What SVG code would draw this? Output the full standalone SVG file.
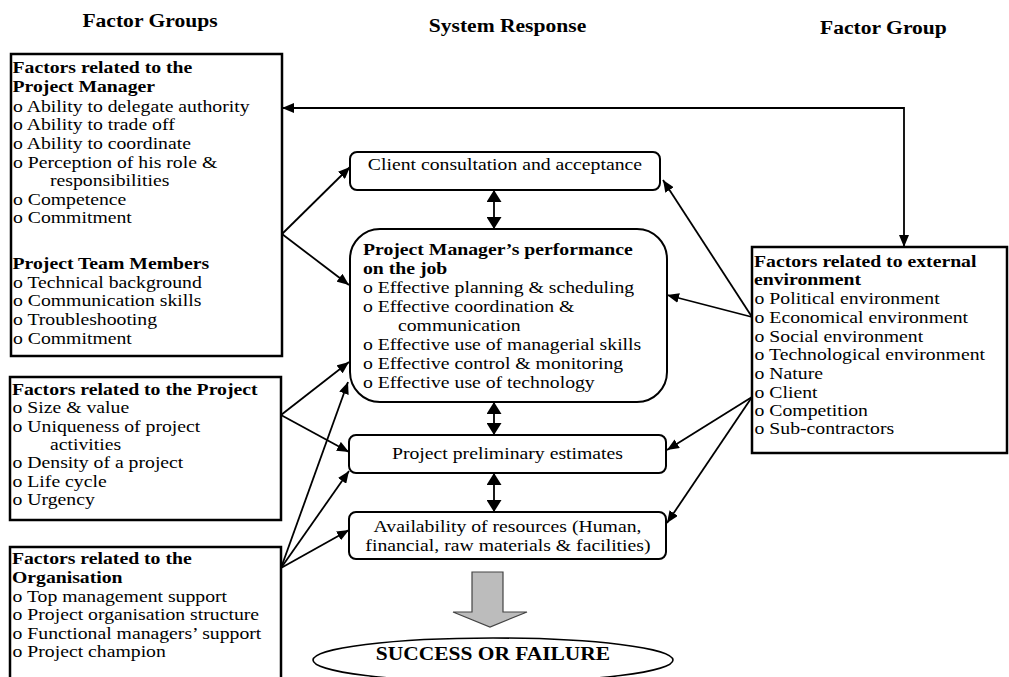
<svg xmlns="http://www.w3.org/2000/svg" width="1009" height="677" viewBox="0 0 1009 677">
<defs>
<style>
text{font-family:"Liberation Serif","Times New Roman",serif;font-size:17px;fill:#000}
.b{font-weight:bold}
.t{font-weight:bold;font-size:18.6px}
.c{text-anchor:middle}
.box{fill:#fff;stroke:#000;stroke-width:2.5}
.rbox{fill:#fff;stroke:#000;stroke-width:2}
.ln{fill:none;stroke:#000;stroke-width:1.8}
</style>
<marker id="ah" viewBox="0 0 12 10" refX="12" refY="5" markerWidth="12" markerHeight="10" markerUnits="userSpaceOnUse" orient="auto-start-reverse">
<path d="M0,0 L12,5 L0,10 z" fill="#000"/>
</marker>
<marker id="ahb" viewBox="0 0 12 15" refX="12" refY="7.5" markerWidth="12" markerHeight="15" markerUnits="userSpaceOnUse" orient="auto-start-reverse">
<path d="M0,0 L12,7.5 L0,15 z" fill="#000"/>
</marker>
</defs>
<rect width="1009" height="677" fill="#fff"/>

<g id="titles" transform="scale(1.16 1)">
<text class="t c" x="129.3" y="27">Factor Groups</text>
<text class="t c" x="437.5" y="32">System Response</text>
<text class="t c" x="761.6" y="34">Factor Group</text>
</g>

<g id="pm-factors">
<rect class="box" x="11" y="54" width="271" height="302"/>
<g transform="scale(1.16 1)">
<text class="b" x="10.8" y="73">Factors related to the</text>
<text class="b" x="10.8" y="92">Project Manager</text>
<text x="11.2" y="112">o Ability to delegate authority</text>
<text x="11.2" y="130">o Ability to trade off</text>
<text x="11.2" y="149">o Ability to coordinate</text>
<text x="11.2" y="168">o Perception of his role &amp;</text>
<text x="43.1" y="186">responsibilities</text>
<text x="11.2" y="205">o Competence</text>
<text x="11.2" y="223">o Commitment</text>
<text class="b" x="10.8" y="269">Project Team Members</text>
<text x="11.2" y="288">o Technical background</text>
<text x="11.2" y="306">o Communication skills</text>
<text x="11.2" y="325">o Troubleshooting</text>
<text x="11.2" y="344">o Commitment</text>
</g>
</g>

<g id="project-factors">
<rect class="box" x="10" y="377" width="271" height="143"/>
<g transform="scale(1.16 1)">
<text class="b" x="10.3" y="395">Factors related to the Project</text>
<text x="10.8" y="413">o Size &amp; value</text>
<text x="10.8" y="432">o Uniqueness of project</text>
<text x="43.1" y="450">activities</text>
<text x="10.8" y="468">o Density of a project</text>
<text x="10.8" y="487">o Life cycle</text>
<text x="10.8" y="505">o Urgency</text>
</g>
</g>

<g id="org-factors">
<rect class="box" x="10" y="547" width="271" height="145"/>
<g transform="scale(1.16 1)">
<text class="b" x="10.3" y="564">Factors related to the</text>
<text class="b" x="10.3" y="583">Organisation</text>
<text x="10.8" y="602">o Top management support</text>
<text x="10.8" y="620">o Project organisation structure</text>
<text x="10.8" y="639">o Functional managers’ support</text>
<text x="10.8" y="657">o Project champion</text>
</g>
</g>

<g id="client-consultation">
<rect class="rbox" x="350" y="152" width="310" height="38" rx="7"/>
<text class="c" transform="scale(1.16 1)" x="435.3" y="170">Client consultation and acceptance</text>
</g>

<g id="pm-performance">
<rect class="rbox" x="350" y="229" width="317" height="173" rx="30"/>
<g transform="scale(1.16 1)">
<text class="b" x="312.9" y="255">Project Manager’s performance</text>
<text class="b" x="312.9" y="274">on the job</text>
<text x="312.9" y="293">o Effective planning &amp; scheduling</text>
<text x="312.9" y="312">o Effective coordination &amp;</text>
<text x="343.1" y="331">communication</text>
<text x="312.9" y="350">o Effective use of managerial skills</text>
<text x="312.9" y="369">o Effective control &amp; monitoring</text>
<text x="312.9" y="388">o Effective use of technology</text>
</g>
</g>

<g id="preliminary-estimates">
<rect class="rbox" x="349" y="435" width="317" height="38" rx="7"/>
<text class="c" transform="scale(1.16 1)" x="437.5" y="459">Project preliminary estimates</text>
</g>

<g id="resources">
<rect class="rbox" x="349" y="512" width="317" height="47" rx="7"/>
<g transform="scale(1.16 1)">
<text class="c" x="437.5" y="532">Availability of resources (Human,</text>
<text class="c" x="437.9" y="551">financial, raw materials &amp; facilities)</text>
</g>
</g>

<g id="external-factors">
<rect class="box" x="752" y="247" width="255" height="206"/>
<g transform="scale(1.16 1)">
<text class="b" x="650" y="267">Factors related to external</text>
<text class="b" x="650" y="285">environment</text>
<text x="650.5" y="304">o Political environment</text>
<text x="650.5" y="323">o Economical environment</text>
<text x="650.5" y="342">o Social environment</text>
<text x="650.5" y="360">o Technological environment</text>
<text x="650.5" y="379">o Nature</text>
<text x="650.5" y="398">o Client</text>
<text x="650.5" y="416">o Competition</text>
<text x="650.5" y="434">o Sub-contractors</text>
</g>
</g>

<g id="outcome">
<polygon points="472,572 503,572 503,612 527,612 490,627 453,612 472,612" fill="#bcbcbc" stroke="#444" stroke-width="1.2"/>
<ellipse cx="493" cy="660" rx="180" ry="22" fill="#fff" stroke="#000" stroke-width="1.6"/>
<text class="b c" transform="scale(1.16 1)" x="425" y="660" style="font-size:18.5px">SUCCESS OR FAILURE</text>
</g>

<g id="connectors">
<line class="ln" x1="282" y1="234" x2="350" y2="167" marker-end="url(#ah)"/>
<line class="ln" x1="282" y1="234" x2="349" y2="285" marker-end="url(#ah)"/>
<line class="ln" x1="281" y1="415" x2="349" y2="362" marker-end="url(#ah)"/>
<line class="ln" x1="281" y1="415" x2="349" y2="452" marker-end="url(#ah)"/>
<line class="ln" x1="281" y1="568" x2="348" y2="382" marker-end="url(#ah)"/>
<line class="ln" x1="281" y1="568" x2="349" y2="471" marker-end="url(#ah)"/>
<line class="ln" x1="281" y1="568" x2="349" y2="530" marker-end="url(#ah)"/>
<line class="ln" x1="752" y1="317" x2="663" y2="180" marker-end="url(#ah)"/>
<line class="ln" x1="752" y1="317" x2="667" y2="295" marker-end="url(#ah)"/>
<line class="ln" x1="752" y1="397" x2="667" y2="450" marker-end="url(#ah)"/>
<line class="ln" x1="752" y1="397" x2="667" y2="523" marker-end="url(#ah)"/>
<path class="ln" d="M282,108 H904 V247" marker-start="url(#ah)" marker-end="url(#ah)"/>
<line class="ln" x1="494" y1="190" x2="494" y2="229" marker-start="url(#ahb)" marker-end="url(#ahb)"/>
<line class="ln" x1="494" y1="402" x2="494" y2="435" marker-start="url(#ahb)" marker-end="url(#ahb)"/>
<line class="ln" x1="494" y1="473" x2="494" y2="512" marker-start="url(#ahb)" marker-end="url(#ahb)"/>
</g>
</svg>
